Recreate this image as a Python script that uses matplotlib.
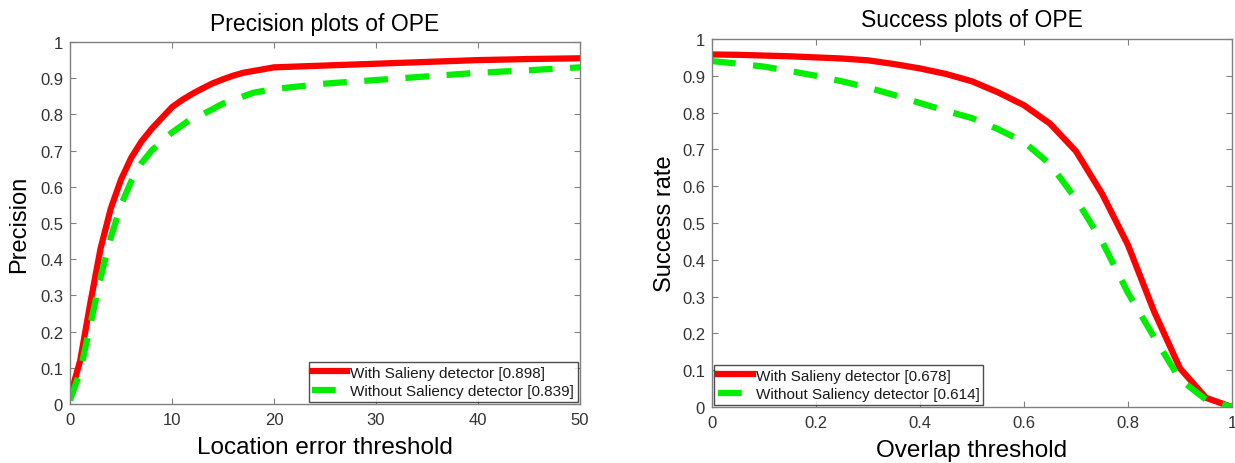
import matplotlib
matplotlib.use("Agg")
import matplotlib.pyplot as plt
import numpy as np

plt.rcParams['font.family'] = ['Liberation Sans', 'DejaVu Sans']

# Precision plot data
prec_x = [0, 1, 2, 3, 4, 5, 6, 7, 8, 9, 10, 11, 12, 13, 14, 15, 16, 17, 18, 19, 20,
          25, 30, 35, 40, 45, 50]
prec_with = [0.02, 0.12, 0.28, 0.43, 0.54, 0.62, 0.68, 0.725, 0.76, 0.79, 0.82, 0.84,
             0.857, 0.872, 0.886, 0.897, 0.907, 0.915, 0.92, 0.925, 0.93,
             0.935, 0.94, 0.945, 0.95, 0.953, 0.955]
prec_without = [0.01, 0.09, 0.22, 0.35, 0.46, 0.55, 0.615, 0.665, 0.70, 0.725, 0.75, 0.77,
                0.79, 0.80, 0.815, 0.83, 0.84, 0.85, 0.86, 0.865, 0.87,
                0.885, 0.895, 0.905, 0.915, 0.922, 0.93]

# Success plot data
succ_x = [0.0, 0.05, 0.1, 0.15, 0.2, 0.25, 0.3, 0.35, 0.4, 0.45, 0.5,
          0.55, 0.6, 0.65, 0.7, 0.75, 0.8, 0.85, 0.9, 0.95, 1.0]
succ_with = [0.958, 0.957, 0.955, 0.953, 0.95, 0.947, 0.942, 0.932, 0.92, 0.905, 0.885,
             0.855, 0.82, 0.77, 0.695, 0.58, 0.44, 0.26, 0.105, 0.025, 0.0]
succ_without = [0.94, 0.933, 0.925, 0.913, 0.9, 0.885, 0.868, 0.848, 0.826, 0.805, 0.785,
                0.755, 0.72, 0.66, 0.565, 0.45, 0.31, 0.19, 0.075, 0.02, 0.0]

prec_labels = ['With Salieny detector [0.898]', 'Without Saliency detector [0.839]']
succ_labels = ['With Salieny detector [0.678]', 'Without Saliency detector [0.614]']

fig = plt.figure(figsize=(12.35, 4.64), dpi=100)
ax1 = fig.add_axes([70/1235, (464-405)/464, 510/1235, 362/464])
ax2 = fig.add_axes([712/1235, (464-408)/464, 520/1235, 368/464])

tick_col = '#333333'
spine_col = '#808080'
dash = (0, (3.8, 2.8))

def style(ax):
    for s in ax.spines.values():
        s.set_color(spine_col)
        s.set_linewidth(1.0)
    ax.tick_params(direction='in', top=True, right=True, length=4, width=0.8,
                   color=spine_col, labelcolor=tick_col, labelsize=12)
    ax.tick_params(axis='x', pad=6)
    ax.tick_params(axis='y', pad=5)
    ax.set_ylim(0, 1)
    ax.set_yticks(np.arange(0, 1.01, 0.1))
    ax.set_yticklabels(['0', '0.1', '0.2', '0.3', '0.4', '0.5', '0.6', '0.7', '0.8', '0.9', '1'])

def add_legend(ax, loc):
    leg = ax.legend(loc=loc, fontsize=11, frameon=True, fancybox=False,
                    edgecolor='#202020', borderaxespad=0.15, handlelength=2.3,
                    handletextpad=0.2, borderpad=0.22, labelspacing=0.3)
    leg.get_frame().set_linewidth(1.0)
    for t in leg.get_texts():
        t.set_color('#1a1a1a')

ax1.plot(prec_x, prec_with, color='#ff0000', lw=4.5, label=prec_labels[0])
ax1.plot(prec_x, prec_without, color='#00ee00', lw=4.5, ls=dash, label=prec_labels[1])
ax1.set_xlim(0, 50)
ax1.set_xticks([0, 10, 20, 30, 40, 50])
style(ax1)
ax1.set_title('Precision plots of OPE', fontsize=16.5, pad=9)
ax1.set_xlabel('Location error threshold', fontsize=17.5, labelpad=6)
ax1.set_ylabel('Precision', fontsize=17, labelpad=7)
add_legend(ax1, 'lower right')

ax2.plot(succ_x, succ_with, color='#ff0000', lw=4.5, label=succ_labels[0])
ax2.plot(succ_x, succ_without, color='#00ee00', lw=4.5, ls=dash, label=succ_labels[1])
ax2.set_xlim(0, 1)
ax2.set_xticks([0, 0.2, 0.4, 0.6, 0.8, 1])
ax2.set_xticklabels(['0', '0.2', '0.4', '0.6', '0.8', '1'])
style(ax2)
ax2.set_title('Success plots of OPE', fontsize=16.5, pad=9)
ax2.set_xlabel('Overlap threshold', fontsize=17.5, labelpad=6)
ax2.set_ylabel('Success rate', fontsize=17, labelpad=4)
add_legend(ax2, 'lower left')

fig.savefig('out.png', dpi=100, facecolor='white')
